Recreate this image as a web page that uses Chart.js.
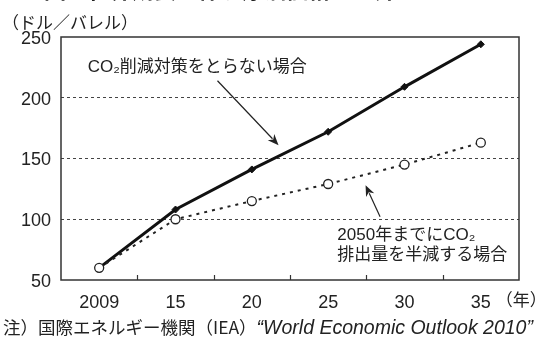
<!DOCTYPE html>
<html><head><meta charset="utf-8">
<script src="https://cdn.jsdelivr.net/npm/chart.js@4/dist/chart.umd.min.js"></script>
<style>
html,body{margin:0;padding:0;background:#fff;}
#wrap{position:relative;width:535px;height:340px;overflow:hidden;font-family:'Liberation Sans','Noto Sans CJK JP',sans-serif;color:#222;}
#title{position:absolute;left:44px;top:-28px;font-size:22px;font-weight:bold;white-space:nowrap;font-family:'Noto Sans CJK JP',sans-serif;}
#unit{position:absolute;left:2px;top:9px;font-size:17px;white-space:nowrap;font-family:'Noto Sans CJK JP',sans-serif;}
#note{position:absolute;left:3px;top:314px;white-space:nowrap;}
#note span{font-family:'Noto Sans CJK JP',sans-serif;font-size:17.5px;}
#note i{font-family:'Liberation Sans',sans-serif;font-size:19.5px;}
canvas{position:absolute;left:0;top:0;}
</style></head>
<body><div id="wrap">
<canvas id="c" width="535" height="340"></canvas>
<div id="title">図　世界成長に伴う原油価格の上昇</div>
<div id="unit">（ドル／バレル）</div>
<div id="note"><span>注）国際エネルギー機関（IEA）</span><i>“World Economic Outlook 2010”</i></div>
</div>
<script>
const categories = ['2009','15','20','25','30','35'];
const noPolicy = [60, 108, 141, 172, 209, 244];
const halving = [60, 100, 115, 129, 145, 163];
const yTicks = [50, 100, 150, 200, 250];
const yearUnit = '（年）';
const label1 = 'CO₂削減対策をとらない場合';
const label2 = ['2050年までにCO₂', '排出量を半減する場合'];

const FONT = "'Liberation Sans','Noto Sans CJK JP',sans-serif";
const INK = '#222';

const extras = {
  id: 'extras',
  afterDatasetsDraw(chart) {
    const {ctx, chartArea: a, scales: {x, y}} = chart;
    ctx.save();
    ctx.strokeStyle = '#333'; ctx.lineWidth = 1.5; ctx.setLineDash([]);
    ctx.strokeRect(a.left, a.top, a.right - a.left, a.bottom - a.top);
    ctx.lineWidth = 1.2;
    for (let i = 0; i < categories.length - 1; i++) {
      const px = Math.round((x.getPixelForValue(i) + x.getPixelForValue(i + 1)) / 2) + 0.5;
      ctx.beginPath(); ctx.moveTo(px, a.bottom); ctx.lineTo(px, a.bottom - 5); ctx.stroke();
    }
    ctx.fillStyle = INK; ctx.font = "17px 'Noto Sans CJK JP',sans-serif";
    ctx.textAlign = 'left'; ctx.textBaseline = 'middle';
    ctx.fillText(yearUnit, x.getPixelForValue(categories.length - 1) + 15, 300);
    ctx.font = "17px " + FONT;
    ctx.fillText(label1, x.getPixelForValue(-0.15), y.getPixelForValue(225));
    ctx.fillText(label2[0], x.getPixelForValue(3.12), y.getPixelForValue(87));
    ctx.fillText(label2[1], x.getPixelForValue(3.12), y.getPixelForValue(70));
    const arrow = (x0, y0, x1, y1) => {
      const X0 = x.getPixelForValue(x0), Y0 = y.getPixelForValue(y0);
      const X1 = x.getPixelForValue(x1), Y1 = y.getPixelForValue(y1);
      const ang = Math.atan2(Y1 - Y0, X1 - X0);
      const L = 11, W = 4.5;
      ctx.strokeStyle = INK; ctx.lineWidth = 1.2;
      ctx.beginPath(); ctx.moveTo(X0, Y0);
      ctx.lineTo(X1 - Math.cos(ang) * L * 0.8, Y1 - Math.sin(ang) * L * 0.8); ctx.stroke();
      ctx.beginPath();
      ctx.moveTo(X1, Y1);
      ctx.lineTo(X1 - Math.cos(ang) * L - Math.sin(ang) * W, Y1 - Math.sin(ang) * L + Math.cos(ang) * W);
      ctx.lineTo(X1 - Math.cos(ang) * L * 0.7, Y1 - Math.sin(ang) * L * 0.7);
      ctx.lineTo(X1 - Math.cos(ang) * L + Math.sin(ang) * W, Y1 - Math.sin(ang) * L - Math.cos(ang) * W);
      ctx.closePath(); ctx.fillStyle = INK; ctx.fill();
    };
    arrow(1.55, 214, 2.35, 161);
    arrow(3.68, 102, 3.49, 128);
    ctx.restore();
  }
};

new Chart(document.getElementById('c'), {
  type: 'line',
  data: {
    labels: categories,
    datasets: [
      {
        data: halving,
        borderColor: INK, borderWidth: 2, borderDash: [3, 5],
        pointStyle: 'circle', pointRadius: 4.5, pointBackgroundColor: '#fff',
        pointBorderColor: INK, pointBorderWidth: 1.3, tension: 0
      },
      {
        data: noPolicy,
        borderColor: '#111', borderWidth: 3,
        pointStyle: 'rectRot', pointRadius: 3.5, pointBackgroundColor: '#111',
        pointBorderColor: '#111', pointBorderWidth: 1, tension: 0
      }
    ]
  },
  options: {
    responsive: false, animation: false,
    layout: {padding: {left: 0, right: 16, top: 37, bottom: 0}},
    plugins: {legend: {display: false}, tooltip: {enabled: false}, title: {display: false}},
    scales: {
      x: {
        type: 'category', offset: true,
        grid: {display: false, drawTicks: false},
        border: {display: false},
        ticks: {color: INK, font: {family: FONT, size: 18}, padding: 12, maxRotation: 0, autoSkip: false},
        afterFit(s) { s.height = 60; }
      },
      y: {
        min: 50, max: 250,
        afterBuildTicks(s) { s.ticks = yTicks.map(v => ({value: v})); },
        grid: {
          drawTicks: false,
          color: c => (c.tick && (c.tick.value === 50 || c.tick.value === 250)) ? 'rgba(0,0,0,0)' : '#444',
          lineWidth: 1
        },
        border: {display: false, dash: [3, 3]},
        ticks: {color: INK, font: {family: FONT, size: 18}, padding: 10, labelOffset: 2},
        afterFit(s) { s.width = 61; }
      }
    }
  },
  plugins: [extras]
});
</script>
</body></html>
